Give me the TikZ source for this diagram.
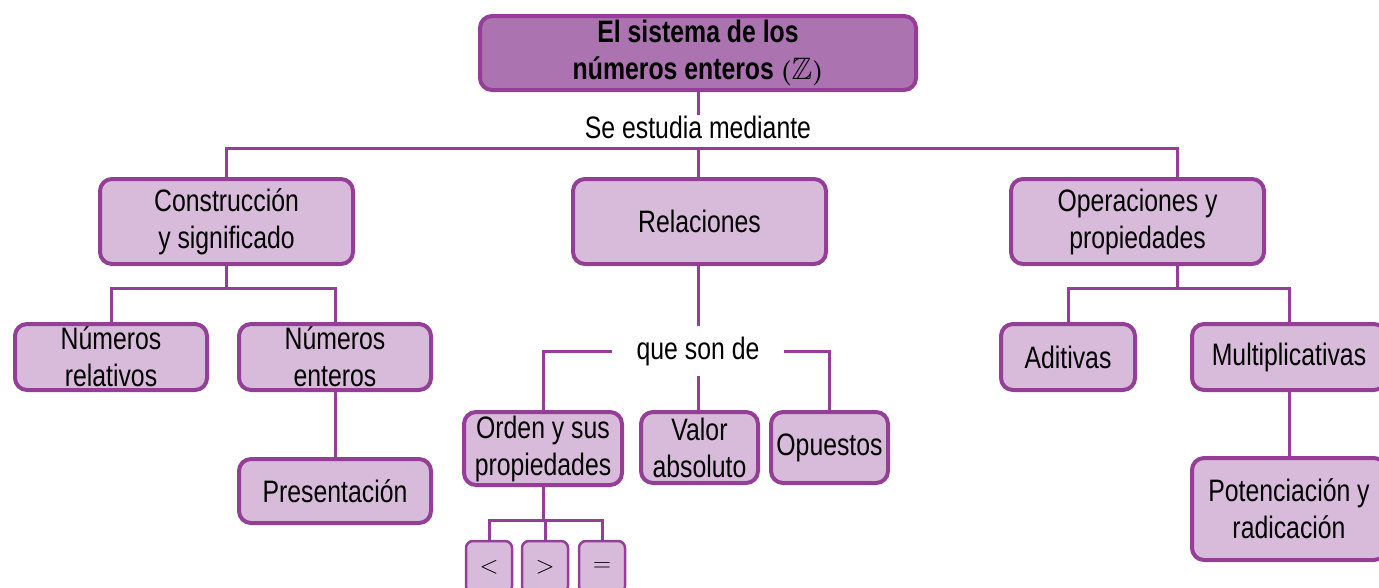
\documentclass[tikz,border=0pt]{standalone}
\usepackage{amssymb}
\usepackage{bm}
\usepackage{fontspec}
\setmainfont{Liberation Sans}[FakeStretch=0.8]
\definecolor{bordc}{RGB}{148,62,152}
\definecolor{boxfill}{RGB}{216,186,218}
\definecolor{topfill}{RGB}{171,115,176}
\begin{document}
\begin{tikzpicture}[x=1pt,y=-1pt,
  box/.style={draw=bordc, line width=4pt, fill=boxfill, rounded corners=12pt, align=center, inner sep=0pt, font=\fontsize{31}{37}\selectfont},
  topbox/.style={box, fill=topfill, font=\fontsize{31}{37}\selectfont\bfseries},
  small/.style={draw=bordc, line width=2.5pt, fill=boxfill, rounded corners=7pt, inner sep=0pt, minimum width=46pt, minimum height=52pt, font=\fontsize{33}{37}\selectfont},
  lbl/.style={font=\fontsize{31}{37}\selectfont, inner sep=0pt},
  conn/.style={draw=bordc, line width=3pt}]
\useasboundingbox (0,0) rectangle (1379,587);
\clip (0,0) rectangle (1379,587);

\node[topbox, minimum width=436pt, minimum height=74pt] (top) at (698,53) {El sistema de los\\números enteros $\bm{(}\mathbb{Z}\bm{)}$};
\node[lbl] (se) at (698,127) {Se estudia mediante};

\node[box, minimum width=253pt, minimum height=85pt] (cons) at (226.5,221.5) {Construcción\\y significado};
\node[box, minimum width=253pt, minimum height=85pt] (rel) at (699.5,221.5) {Relaciones};
\node[box, minimum width=253pt, minimum height=85pt] (ops) at (1137.5,221.5) {Operaciones y\\propiedades};

\node[box, minimum width=192pt, minimum height=66pt] (nrel) at (111,357) {Números\\relativos};
\node[box, minimum width=192pt, minimum height=66pt] (nent) at (335,357) {Números\\enteros};
\node[box, minimum width=192pt, minimum height=64pt] (pres) at (335,491) {Presentación};

\node[lbl, inner xsep=24pt, inner ysep=10pt] (que) at (698,351) {que son de};
\node[box, minimum width=158pt, minimum height=73pt] (orden) at (543,448.5) {Orden y sus\\propiedades};
\node[box, minimum width=117pt, minimum height=71pt] (val) at (699.5,447.5) {Valor\\absoluto};
\node[box, minimum width=117pt, minimum height=71pt] (opu) at (829.5,447.5) {Opuestos};

\node[small] (lt) at (489,567) {$<$};
\node[small] (gt) at (545,567) {$>$};
\node[small] (eq) at (602,567) {$=$};

\node[box, minimum width=134pt, minimum height=66pt] (adi) at (1068,357) {Aditivas};
\node[box, minimum width=194pt, minimum height=66pt] (mul) at (1289,357) {Multiplicativas};
\node[box, minimum width=194pt, minimum height=102pt] (pot) at (1289,509) {Potenciación y\\radicación};

\coordinate (bus) at (698,148);
\coordinate (b1) at (224,288);
\coordinate (b3) at (546,520);
\coordinate (b4) at (1177,288);
\coordinate (opsx) at (1177,0);

\draw[conn] (top.south) -- (se.north);
\draw[conn] (cons.north) |- (opsx |- bus) -- (opsx |- ops.north);
\draw[conn] (se.south |- rel.north) -- (se.south |- bus);

\draw[conn] (cons.south) -- (cons.south |- b1);
\draw[conn] (nrel.north) |- (nent.north |- b1) -- (nent.north);
\draw[conn] (nent.south) -- (pres.north);

\draw[conn] (que.north |- rel.south) -- (que.north);
\draw[conn] (que.west) -| (orden.north);
\draw[conn] (que.east) -| (opu.north);
\draw[conn] (que.south) -- (que.south |- val.north);

\draw[conn] (orden.south) -- (orden.south |- b3);
\draw[conn] (lt.north) |- (eq.north |- b3) -- (eq.north);
\draw[conn] (gt.north) -- (gt.north |- b3);

\draw[conn] (opsx |- ops.south) -- (b4);
\draw[conn] (adi.north) |- (mul.north |- b4) -- (mul.north);
\draw[conn] (mul.south) -- (pot.north);
\end{tikzpicture}
\end{document}
